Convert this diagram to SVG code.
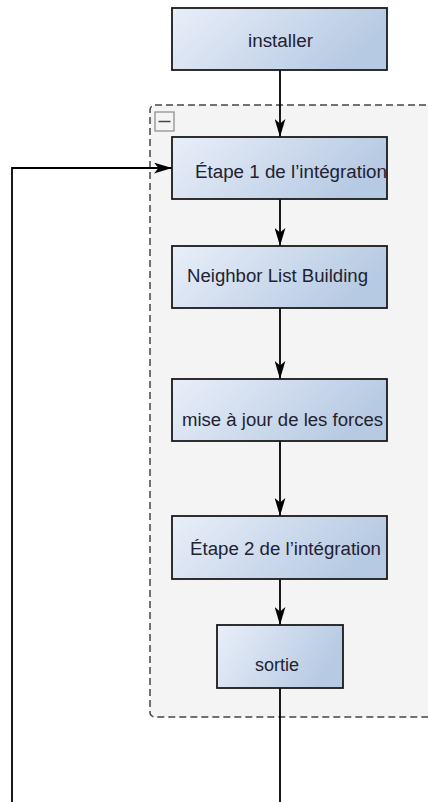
<svg xmlns="http://www.w3.org/2000/svg" width="428" height="802" viewBox="0 0 428 802">
<defs>
<linearGradient id="g" x1="0" y1="0" x2="1" y2="0.3">
<stop offset="0" stop-color="#e9eff9"/>
<stop offset="1" stop-color="#b7cae3"/>
</linearGradient>
<marker id="ah" viewBox="0 0 20 12" refX="20" refY="6" markerWidth="18" markerHeight="11" markerUnits="userSpaceOnUse" orient="auto">
<path d="M0,0 L20,6 L0,12 L5,6 Z" fill="#000"/>
</marker>
<style>
.box{fill:url(#g);stroke:#1a1a1a;stroke-width:1.8}
.lbl{font-family:"Liberation Sans",Arial,sans-serif;font-size:18px;fill:#222230}
.edge{fill:none;stroke:#000;stroke-width:1.8}
</style>
</defs>
<rect width="428" height="802" fill="#fff"/>
<g id="container">
<rect x="150" y="105" width="300" height="612" rx="5" fill="#f4f4f4" stroke="#444" stroke-width="1.5" stroke-dasharray="7,4"/>
<rect x="155" y="112" width="19" height="19" fill="#f4f4f4" stroke="#888" stroke-width="1.2"/>
<line x1="158.5" y1="121.5" x2="170.5" y2="121.5" stroke="#444" stroke-width="1.5"/>
</g>
<g id="connectors">
<path class="edge" d="M280,70 V137" marker-end="url(#ah)"/>
<path class="edge" d="M280,199 V246" marker-end="url(#ah)"/>
<path class="edge" d="M280,308 V379" marker-end="url(#ah)"/>
<path class="edge" d="M280,441 V516" marker-end="url(#ah)"/>
<path class="edge" d="M280,579 V625" marker-end="url(#ah)"/>
<path class="edge" d="M280,688 V802"/>
<path class="edge" d="M12,802 V168 H172" marker-end="url(#ah)"/>
</g>
<g id="installer">
<rect class="box" x="172" y="8" width="215" height="62"/>
<text class="lbl" x="248" y="47" textLength="65" lengthAdjust="spacingAndGlyphs">installer</text>
</g>
<g id="etape1">
<rect class="box" x="172" y="137" width="215" height="62"/>
<text class="lbl" x="195" y="178" textLength="192" lengthAdjust="spacingAndGlyphs">Étape 1 de l’intégration</text>
</g>
<g id="neighbor">
<rect class="box" x="172" y="246" width="215" height="62"/>
<text class="lbl" x="187" y="282" textLength="181" lengthAdjust="spacingAndGlyphs">Neighbor List Building</text>
</g>
<g id="forces">
<rect class="box" x="172" y="379" width="215" height="62"/>
<text class="lbl" x="182" y="426" textLength="201" lengthAdjust="spacingAndGlyphs">mise à jour de les forces</text>
</g>
<g id="etape2">
<rect class="box" x="172" y="516" width="215" height="63"/>
<text class="lbl" x="190" y="555" textLength="191" lengthAdjust="spacingAndGlyphs">Étape 2 de l’intégration</text>
</g>
<g id="sortie">
<rect class="box" x="217" y="625" width="126" height="63"/>
<text class="lbl" x="255" y="671" textLength="44" lengthAdjust="spacingAndGlyphs">sortie</text>
</g>
</svg>
